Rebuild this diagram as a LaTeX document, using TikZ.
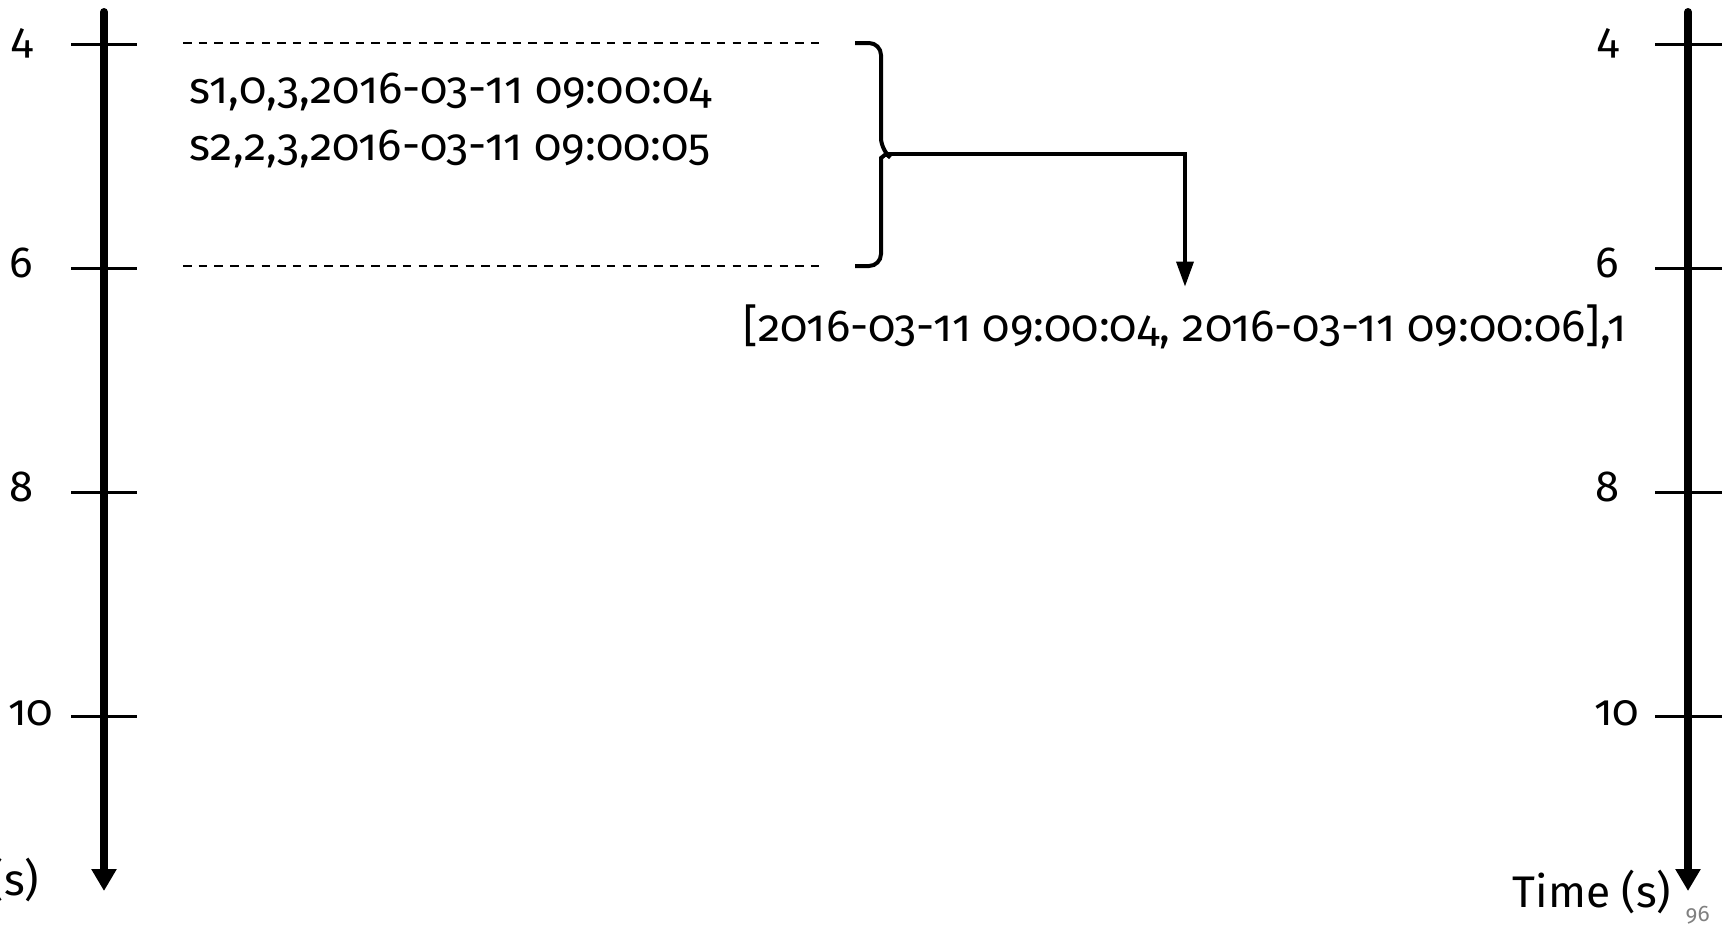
\documentclass[tikz,border=0pt]{standalone}
\usepackage{fontspec}
\setmainfont{Fira Sans}[Numbers=OldStyle]
\usetikzlibrary{arrows.meta}

\begin{document}
\begin{tikzpicture}[
    x=0.1mm, y=-0.1mm,
    font=\fontsize{12.8pt}{15pt}\selectfont,
    axis/.style={line width=0.8mm, line cap=round,
        -{Triangle[length=2.2mm, width=2.4mm]}},
    tick/.style={line width=0.3mm},
    bound/.style={line width=0.2mm, dash pattern=on 0.85mm off 0.72mm},
    bracket/.style={line width=0.4mm, rounded corners=1.2mm},
    link/.style={line width=0.35mm, -{Triangle[length=2.5mm, width=1.7mm]}},
    ticklabel/.style={anchor=base east, inner sep=0pt,
        font=\fontsize{12.4pt}{15pt}\selectfont},
    axislabel/.style={anchor=base east, inner sep=0pt,
        font=\fontsize{12.6pt}{15pt}\selectfont},
    record/.style={anchor=base west, inner sep=0pt}
]
\useasboundingbox (0,0) rectangle (1727,928);

% time axes
\draw[axis] (104,12) -- (104,891);
\draw[axis] (1688,12) -- (1688,891);

\foreach \t/\y/\dx in {4/44/0, 6/268/0, 8/492/0, 10/716/20} {
    \draw[tick] (71,\y) -- (137,\y);
    \draw[tick] (1655,\y) -- (1722,\y);
    \node[ticklabel] (lt\t) at (34+\dx,\y+9) {\t};
    \node[ticklabel] (rt\t) at (1620+\dx,\y+9) {\t};
}

\node[axislabel] (ltime) at (40,895) {Time (s)};
\node[axislabel] (rtime) at (1672,907) {Time (s)};
\node[anchor=base west, inner sep=0pt, text=gray,
      font=\fontsize{6.4pt}{7pt}\selectfont]
      (page) at (1685,921) {96};

% window 4--6
\draw[bound] (183,43) -- (825,43);
\draw[bound] (183,266) -- (825,266);
\node[record] (s1) at (189,103) {s1,0,3,2016-03-11 09:00:04};
\node[record] (s2) at (189,160) {s2,2,3,2016-03-11 09:00:05};

% bracket and result
\draw[bracket] (855,43) -- (881,43) -- (881,150) [sharp corners]
    -- (886,154) -- (881,158) [rounded corners=1.2mm] -- (881,266) -- (855,266);
\coordinate (tip) at (886,154);

\node[anchor=base, inner sep=0pt] (res) at (1185,341)
    {[2016-03-11 09:00:04, 2016-03-11 09:00:06],1};

\draw[link] (tip) -| ([yshift=1.7mm]res.north);

\end{tikzpicture}
\end{document}
